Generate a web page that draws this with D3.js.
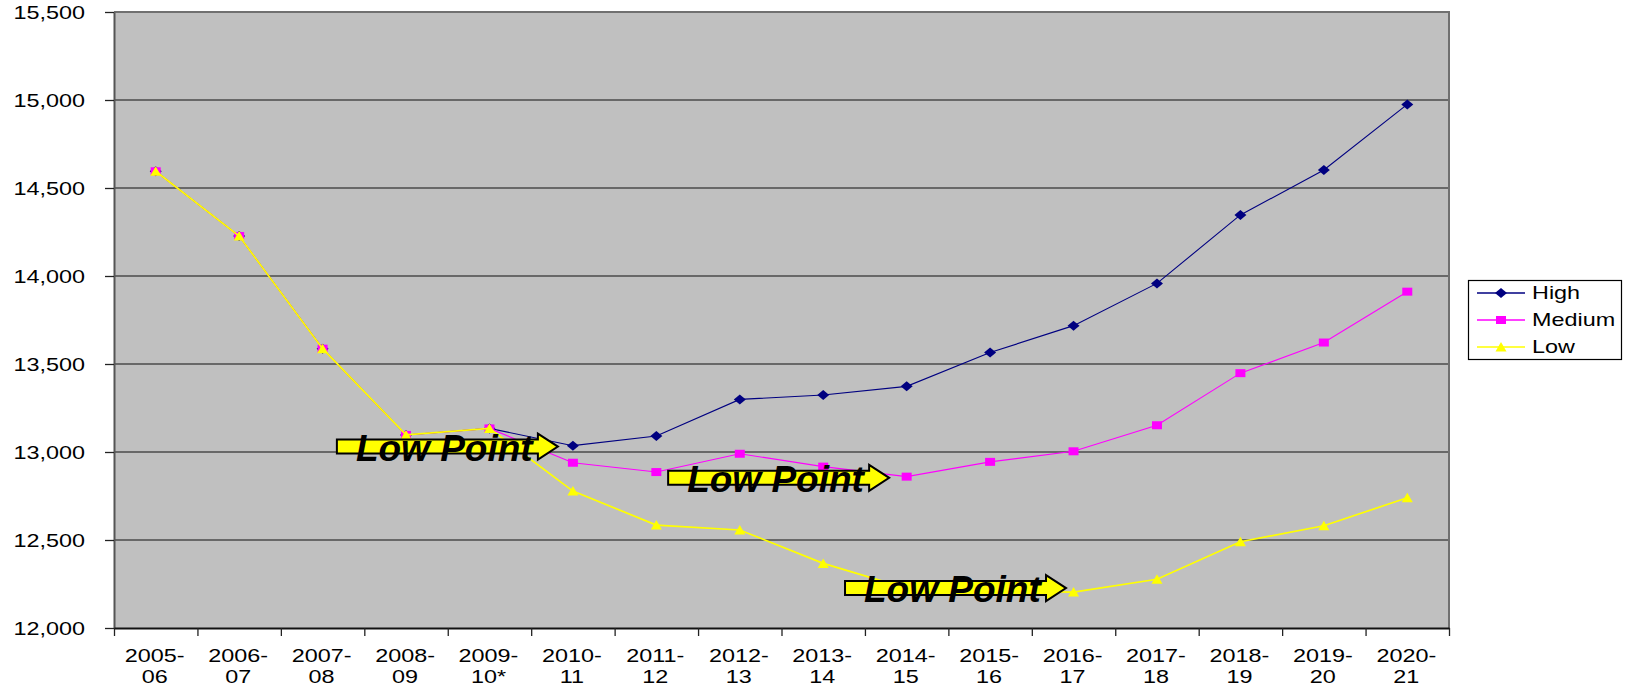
<!DOCTYPE html>
<html>
<head>
<meta charset="utf-8">
<script src="https://cdn.jsdelivr.net/npm/d3@7"></script>
<style>
  body { margin: 0; background: #fff; }
  svg { display: block; }
  text { font-family: "Liberation Sans", Arial, sans-serif; }
</style>
</head>
<body>
<svg></svg>
<script>
const svgWidth = 1625;
const svgHeight = 687;

// chart values
const categories = ["2005-06", "2006-07", "2007-08", "2008-09", "2009-10*", "2010-11", "2011-12", "2012-13",
                    "2013-14", "2014-15", "2015-16", "2016-17", "2017-18", "2018-19", "2019-20", "2020-21"];
const high   = [14595, 14227, 13587, 13097, 13134, 13036, 13091, 13299, 13324, 13373, 13565, 13718, 13958, 14347, 14602, 14975];
const medium = [14595, 14227, 13587, 13097, 13134, 12939, 12886, 12990, 12917, 12860, 12944, 13004, 13152, 13448, 13622, 13911];
const low    = [14595, 14227, 13587, 13097, 13134, 12778, 12585, 12557, 12367, 12225, 12210, 12204, 12277, 12490, 12581, 12740];
const seriesNames = ["High", "Medium", "Low"];
const yTicks = [12000, 12500, 13000, 13500, 14000, 14500, 15000, 15500];
// "Low Point" arrows: tip position along the category axis, value at the arrow's centre
const arrowTips = [5.32, 9.29, 11.41];
const arrowVals = [13031, 12853, 12227];
const arrowText = "Low Point";

const plot = {left: 114, right: 1449, top: 12, bottom: 628};
const stretch = 1.3;   // the original's text is widened horizontally

const svg = d3.select("svg")
        .attr("width", svgWidth)
        .attr("height", svgHeight);

const x = d3.scaleBand()
        .domain(categories)
        .range([plot.left, plot.right]);
const xIdx = d3.scaleLinear()
        .domain([0, categories.length])
        .range([plot.left, plot.right]);
const y = d3.scaleLinear()
        .domain([12000, 15500])
        .range([plot.bottom, plot.top]);
const cx = c => x(c) + x.bandwidth() / 2;

// plot background
svg.append("rect")
    .attr("x", plot.left)
    .attr("y", plot.top)
    .attr("width", plot.right - plot.left)
    .attr("height", plot.bottom - plot.top)
    .attr("fill", "#c0c0c0");

// gridlines
svg.append("g")
    .selectAll("line")
    .data(yTicks.slice(1, -1))
    .enter()
    .append("line")
        .attr("x1", plot.left)
        .attr("x2", plot.right)
        .attr("y1", d => y(d))
        .attr("y2", d => y(d))
        .attr("stroke", "#111")
        .attr("stroke-width", 1.2);

// frame: top and right in grey
svg.append("path")
    .attr("d", `M${plot.left},${y(15500)}H${plot.right}V${plot.bottom}`)
    .attr("fill", "none")
    .attr("stroke", "#707070")
    .attr("stroke-width", 2);

// Y axis
let yAxis = d3.axisLeft(y)
        .tickValues(yTicks)
        .tickSize(9)
        .tickSizeOuter(0)
        .tickFormat(d3.format(","));
let gy = svg.append("g")
        .attr("transform", `translate(${plot.left}, 0)`)
        .call(yAxis);
gy.select(".domain").attr("stroke", "#555").attr("stroke-width", 2);
gy.selectAll(".tick line").attr("stroke", "#222").attr("stroke-width", 1.3);
gy.selectAll(".tick text")
    .attr("x", 0)
    .attr("dy", "0.34em")
    .attr("transform", `translate(-29,0) scale(${stretch},1)`)
    .attr("font-size", 18)
    .attr("fill", "#000");

// X axis: tick marks at category boundaries
let xTickAxis = d3.axisBottom(xIdx)
        .tickValues(d3.range(categories.length + 1))
        .tickSize(8)
        .tickSizeOuter(0)
        .tickFormat("");
let gxt = svg.append("g")
        .attr("transform", `translate(0, ${plot.bottom})`)
        .call(xTickAxis);
gxt.select(".domain").attr("stroke", "#111").attr("stroke-width", 2);
gxt.selectAll(".tick line").attr("stroke", "#222").attr("stroke-width", 1.3);

// X axis: two-line labels at category centres
let xAxis = d3.axisBottom(x)
        .tickSize(0)
        .tickSizeOuter(0);
let gx = svg.append("g")
        .attr("transform", `translate(0, ${plot.bottom})`)
        .call(xAxis);
gx.select(".domain").remove();
gx.selectAll(".tick text")
    .attr("y", 0)
    .attr("dy", null)
    .attr("font-size", 18)
    .attr("fill", "#000")
    .attr("transform", `translate(-1,33.5) scale(${stretch},1)`)
    .each(function(d) {
        let parts = d.split("-");
        let t = d3.select(this).text(null);
        t.append("tspan").attr("x", 0).attr("dy", 0).text(parts[0] + "-");
        t.append("tspan").attr("x", 0).attr("dy", 21.5).text(parts[1]);
    });

// series
const series = [
    {name: "High", values: high, color: "#000080", marker: "diamond", width: 1.1},
    {name: "Medium", values: medium, color: "#ff00ff", marker: "square", width: 1.1},
    {name: "Low", values: low, color: "#ffff00", marker: "triangle", width: 1.7}
];

function markerPath(type) {
    if (type == "diamond") return "M0,-5L6,0L0,5L-6,0Z";
    if (type == "square") return "M-5,-4H5V4H-5Z";
    return "M0,-5L5.5,4.5H-5.5Z";
}

let line = d3.line()
        .x((d, i) => cx(categories[i]))
        .y(d => y(d));

series.forEach(s => {
    let g = svg.append("g");
    g.append("path")
        .attr("d", line(s.values))
        .attr("fill", "none")
        .attr("stroke", s.color)
        .attr("stroke-width", s.width);
    g.selectAll("path.marker")
        .data(s.values)
        .enter()
        .append("path")
            .attr("class", "marker")
            .attr("d", markerPath(s.marker))
            .attr("transform", (d, i) => `translate(${cx(categories[i])},${y(d)})`)
            .attr("fill", s.color);
});

// "Low Point" arrows
arrowTips.forEach((t, i) => {
    let tx = xIdx(t);
    let cy = y(arrowVals[i]);
    let g = svg.append("g");
    g.append("path")
        .attr("d", `M${tx - 221},${cy - 7}H${tx - 20}V${cy - 13}L${tx},${cy}L${tx - 20},${cy + 13}V${cy + 7}H${tx - 221}Z`)
        .attr("fill", "#ffff00")
        .attr("stroke", "#000")
        .attr("stroke-width", 2)
        .attr("stroke-linejoin", "miter");
    g.append("text")
        .text(arrowText)
        .attr("x", tx - 202)
        .attr("y", cy + 14)
        .attr("font-size", 37)
        .attr("font-weight", "bold")
        .attr("font-style", "italic")
        .attr("fill", "#000");
});

// Legend
let legend = svg.append("g");
legend.append("rect")
    .attr("x", 1468.5)
    .attr("y", 280.5)
    .attr("width", 153)
    .attr("height", 79)
    .attr("fill", "#fff")
    .attr("stroke", "#000")
    .attr("stroke-width", 1.2);
series.forEach((s, i) => {
    let ly = 293 + i * 27;
    legend.append("line")
        .attr("x1", 1477)
        .attr("x2", 1525)
        .attr("y1", ly)
        .attr("y2", ly)
        .attr("stroke", s.color)
        .attr("stroke-width", 1.3);
    legend.append("path")
        .attr("d", markerPath(s.marker))
        .attr("transform", `translate(1501,${ly})`)
        .attr("fill", s.color);
    legend.append("text")
        .text(s.name)
        .attr("transform", `translate(1532,${ly}) scale(${stretch},1)`)
        .attr("dy", "0.36em")
        .attr("font-size", 18)
        .attr("fill", "#000");
});
</script>
</body>
</html>
